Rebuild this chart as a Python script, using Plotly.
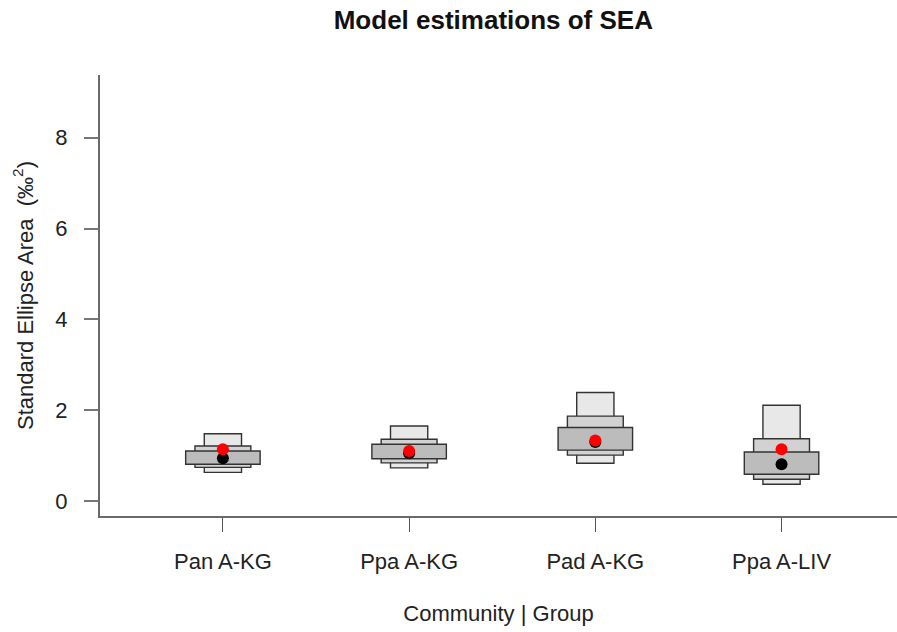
import plotly.graph_objects as go

# Groups along the x axis
groups = ["Pan A-KG", "Ppa A-KG", "Pad A-KG", "Ppa A-LIV"]

# Credible intervals of the posterior SEA (‰²)
ci95_low = [0.63, 0.73, 0.83, 0.37]
ci95_high = [1.48, 1.65, 2.39, 2.11]
ci75_low = [0.74, 0.84, 1.01, 0.48]
ci75_high = [1.21, 1.36, 1.87, 1.37]
ci50_low = [0.81, 0.93, 1.12, 0.59]
ci50_high = [1.10, 1.25, 1.62, 1.08]

# Posterior mode and maximum-likelihood estimate
sea_mode = [0.94, 1.05, 1.30, 0.81]
sea_ml = [1.14, 1.10, 1.33, 1.14]

y_ticks = [0, 2, 4, 6, 8]

FONT = "Liberation Sans, Arial, Helvetica, sans-serif"
EDGE = "#333333"

fig = go.Figure()

# Nested interval boxes: widest interval is the narrowest, lightest box
intervals = [
    (ci95_low, ci95_high, 0.2, "#e8e8e8"),
    (ci75_low, ci75_high, 0.3, "#d2d2d2"),
    (ci50_low, ci50_high, 0.4, "#bcbcbc"),
]
for lo, hi, w, col in intervals:
    fig.add_trace(go.Bar(
        x=groups,
        y=[h - l for l, h in zip(lo, hi)],
        base=lo,
        width=w,
        marker=dict(color=col, line=dict(color=EDGE, width=1.4)),
        showlegend=False,
        hoverinfo="skip",
    ))

fig.add_trace(go.Scatter(
    x=groups, y=sea_mode, mode="markers",
    marker=dict(color="black", size=12),
    showlegend=False, hoverinfo="skip",
))
fig.add_trace(go.Scatter(
    x=groups, y=sea_ml, mode="markers",
    marker=dict(color="#ff0000", size=12),
    showlegend=False, hoverinfo="skip",
))

fig.update_layout(
    width=897, height=632,
    margin=dict(l=100, r=0, t=75, b=116, autoexpand=False),
    paper_bgcolor="white", plot_bgcolor="white",
    barmode="overlay",
    font=dict(family=FONT, size=22, color="#222"),
    title=dict(
        text="<b>Model estimations of SEA</b>",
        x=0.55, xanchor="center", y=0.968, yanchor="middle",
        font=dict(family=FONT, size=26, color="#111"),
    ),
    xaxis=dict(
        type="category",
        range=[-0.66, 3.62],
        showline=True, linecolor="#6a6a6a", linewidth=2,
        ticks="outside", ticklen=14, tickwidth=1, tickcolor="#555",
        ticklabelstandoff=11,
        showgrid=False, zeroline=False,
        title=dict(text="Community | Group", standoff=32,
                   font=dict(family=FONT, size=22, color="#222")),
    ),
    yaxis=dict(
        range=[-0.33, 9.38],
        tickvals=y_ticks,
        showline=True, linecolor="#6a6a6a", linewidth=2,
        ticks="outside", ticklen=14, tickwidth=2, tickcolor="#777",
        ticklabelstandoff=12,
        showgrid=False, zeroline=False,
        title=dict(text="Standard Ellipse Area  (‰<sup>2</sup>)", standoff=16,
                   font=dict(family=FONT, size=22, color="#222")),
    ),
)

fig.write_html("out.html")
